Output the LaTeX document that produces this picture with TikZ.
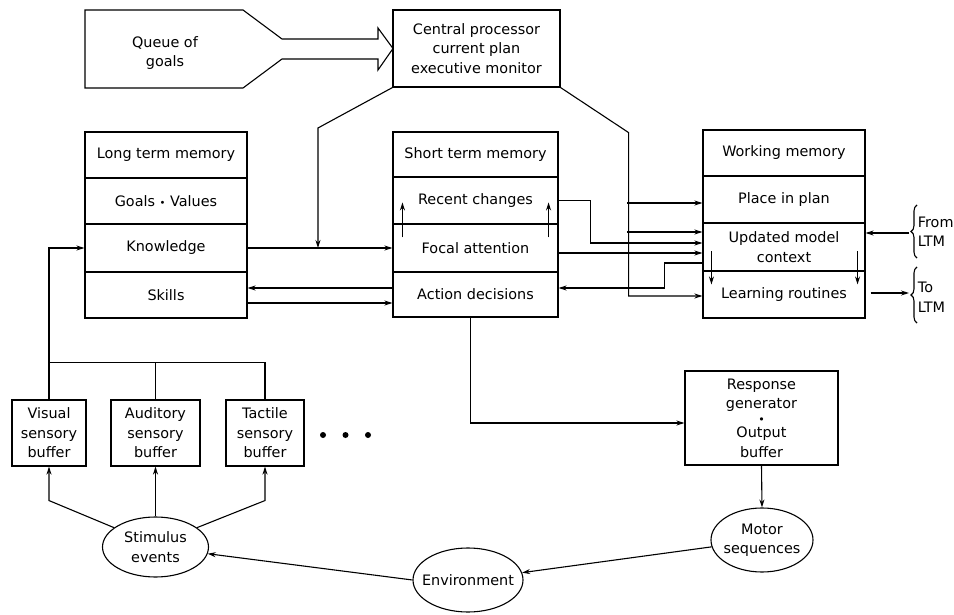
\documentclass[tikz,border=0pt]{standalone}
\usepackage{fontspec}
\setmainfont{DejaVu Sans}
\usetikzlibrary{arrows.meta,calc,shapes.geometric,decorations.pathreplacing}
\begin{document}
\begin{tikzpicture}[x=1pt,y=-1pt,
  every path/.style={line width=1.1pt},
  every node/.style={font=\fontsize{14.4}{19.5}\selectfont, align=center},
  arr/.style={-{Stealth[length=8pt,width=5pt]}},
  box/.style 2 args={draw, inner sep=0pt, minimum width=#1, minimum height=#2},
  oval/.style 2 args={draw, ellipse, inner sep=0pt, minimum width=#1, minimum height=#2},
  brc/.style={decorate, decoration={brace, amplitude=6pt}}]
\useasboundingbox (0,0) rectangle (954,615);

% Queue of goals
\draw (85,10) -- (243,10) -- (282,39) -- (378,39) -- (378,28) -- (393,48.5)
      -- (378,70) -- (378,59) -- (282,59) -- (243,88) -- (85,88) -- cycle;
\node (queue) at (165,53) {Queue of\\goals};

% Central processor
\node[box={167pt}{77pt}] (cp) at (476.5,48.5) {Central processor\\current plan\\executive monitor};

% Long term memory
\node[box={162pt}{46pt}] (ltmT) at (166,155) {Long term memory};
\node[box={162pt}{46pt}] (ltmG) at (166,201) {Goals {\fontsize{10}{10}\selectfont •} Values};
\node[box={162pt}{48pt}] (ltmK) at (166,248) {Knowledge};
\node[box={162pt}{46pt}] (ltmS) at (166,295) {Skills};

% Short term memory
\node[box={165pt}{45pt}] (stmT) at (475.5,154.5) {Short term memory};
\node[box={165pt}{47pt}] (stmR) at (475.5,200.5) {Recent changes};
\node[box={165pt}{48pt}] (stmF) at (475.5,248) {Focal attention};
\node[box={165pt}{45pt}] (stmA) at (475.5,294.5) {Action decisions};

% Working memory
\node[box={162pt}{46pt}] (wmT) at (784,153) {Working memory};
\node[box={162pt}{47pt}] (wmP) at (784,199.5) {Place in plan};
\node[box={162pt}{48pt}] (wmU) at (784,247) {Updated model\\context};
\node[box={162pt}{47pt}] (wmL) at (784,294.5) {Learning routines};

% Sensory buffers
\node[box={74pt}{66pt}] (vis) at (49,433) {Visual\\sensory\\buffer};
\node[box={89pt}{66pt}] (aud) at (155.5,433) {Auditory\\sensory\\buffer};
\node[box={78pt}{66pt}] (tac) at (265,433) {Tactile\\sensory\\buffer};
\fill (323,435) circle[radius=3pt];
\fill (345.5,435) circle[radius=3pt];
\fill (368,435) circle[radius=3pt];

% Response generator
\node[box={153pt}{94pt}] (resp) at (761.5,418) {Response\\generator\\[-5pt]{\fontsize{11}{11}\selectfont •}\\[-5pt]Output\\buffer};

% Ellipses
\node[oval={106pt}{60pt}] (stim) at (155.5,547) {\makebox[0pt]{Stimulus}\\\makebox[0pt]{events}};
\node[oval={110pt}{64pt}] (env) at (468,580) {\makebox[0pt]{Environment}};
\node[oval={102pt}{64pt}] (mot) at (762,540) {\makebox[0pt]{Motor}\\\makebox[0pt]{sequences}};

% LTM labels
\node[anchor=west, align=left] (fromL) at (914,232) {From\\LTM};
\node[anchor=west, align=left] (toL) at (914,297.5) {To\\LTM};
\draw[brc] (917,258) -- (917,205);
\draw[brc] (917,323) -- (917,267);
\coordinate (b1) at (909,233);
\coordinate (b2) at (909,293);

% Central processor connectors
\coordinate (kj) at ($(ltmK.east)!0.486!(stmF.west)$);
\draw[arr] (cp.south west) -- ($(kj)+(0,-120)$) -- (kj);
\draw[arr] (cp.south east) -- ++(68,45) |- ($(wmL.west)+(0,1.5)$);
\draw[arr] ($(wmP.west)+(-75,3.5)$) -- ($(wmP.west)+(0,3.5)$);
\draw[arr] ($(wmU.west)+(-75,-15)$) -- ($(wmU.west)+(0,-15)$);

% LTM <-> STM
\draw[arr] (ltmK.east) -- (stmF.west);
\draw[arr] ($(stmA.west)+(0,-6.5)$) -- ($(ltmS.east)+(0,-7)$);
\draw[arr] ($(ltmS.east)+(0,8)$) -- ($(stmA.west)+(0,8.5)$);

% STM <-> WM
\draw[arr] (stmR.east) -- ++(32,0) |- ($(wmU.west)+(0,-4)$);
\draw[arr] ($(stmF.east)+(0,5)$) -- ($(wmU.west)+(0,6)$);
\draw[arr] ($(wmU.west)+(0,16)$) -- ++(-38,0) |- ($(stmA.east)+(0,-6.5)$);

% inner arrows
\draw[arr] ($(stmF.north west)+(10,14)$) -- ($(stmF.north west)+(10,-21)$);
\draw[arr] ($(stmF.north east)+(-10,14)$) -- ($(stmF.north east)+(-10,-21)$);
\draw[arr] ($(wmL.north west)+(9,-19)$) -- ($(wmL.north west)+(9,14)$);
\draw[arr] ($(wmL.north east)+(-8,-19)$) -- ($(wmL.north east)+(-8,14)$);

% From / to LTM
\draw[arr] (b1) -- ($(wmU.east)+(0,-14)$);
\draw[arr] ($(wmL.east)+(5,-1.5)$) -- (b2);

% Sensory connections
\draw[arr] (vis.north) |- (ltmK.west);
\coordinate (bus) at ($(vis.north)+(0,-37)$);
\draw (bus) -| (tac.north);
\draw (aud.north) -- (aud.north |- bus);
\draw[arr] (stim.155) -- ($(vis.south)+(0,34)$) -- (vis.south);
\draw[arr] (stim.north) -- (aud.south);
\draw[arr] (stim.25) -- ($(tac.south)+(0,34)$) -- (tac.south);

% Output path
\draw[arr] ($(stmA.south)+(-5,0)$) |- ($(resp.west)+(0,5)$);
\draw[arr] (resp.south) -- (mot.north);
\draw[arr] (mot) -- (env);
\draw[arr] (env.west) -- (stim);
\end{tikzpicture}
\end{document}
